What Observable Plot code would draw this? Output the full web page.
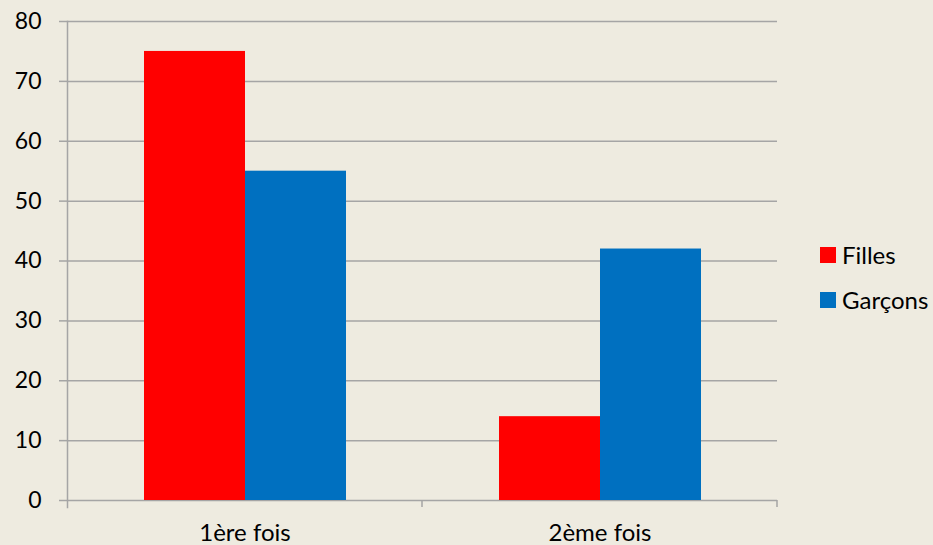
<!DOCTYPE html>
<html>
<head>
<meta charset="utf-8">
<script src="https://cdn.jsdelivr.net/npm/d3@7"></script>
<script src="https://cdn.jsdelivr.net/npm/@observablehq/plot@0.6"></script>
<style>
  html, body { margin: 0; padding: 0; background: #EEEBE0; }
  #wrap { position: relative; width: 933px; height: 545px; font-family: Lato, "Open Sans", sans-serif; }
  .leg { position: absolute; left: 820px; display: flex; align-items: center; font-size: 24px; color: #000; line-height: 1; }
  .sw { width: 16px; height: 16px; margin-right: 6px; display: inline-block; }
</style>
</head>
<body>
<div id="wrap"></div>
<script>
const categories = ["1ère fois", "2ème fois"];
const series = ["Filles", "Garçons"];
const filles = [75, 14];
const garcons = [55, 42];
const yTicks = [0, 10, 20, 30, 40, 50, 60, 70, 80];
const colors = ["#FF0000", "#0070C0"];

const data = categories.flatMap((c, i) => [
  {cat: c, serie: series[0], value: filles[i]},
  {cat: c, serie: series[1], value: garcons[i]}
]);

const gridColor = "#A5A5A5";

const plot = Plot.plot({
  width: 933,
  height: 545,
  marginLeft: 66,
  marginRight: 156,
  marginTop: 21,
  marginBottom: 45,
  style: {background: "#EEEBE0", fontFamily: "Lato, 'Open Sans', sans-serif", fontSize: "22px", color: "#000", overflow: "visible"},
  fx: {domain: categories, padding: 0, label: null},
  x: {domain: series, paddingInner: 0, paddingOuter: 0.75, axis: null},
  y: {domain: [0, 80], label: null},
  color: {domain: series, range: colors},
  marks: [
    Plot.gridY(yTicks, {stroke: gridColor, strokeOpacity: 1, strokeWidth: 1.5}),
    Plot.axisY(yTicks, {tickSize: 8, tickPadding: 18, stroke: gridColor, strokeWidth: 1.5, fill: "#000", fontSize: 23, label: null}),
    Plot.axisFx({anchor: "bottom", tickSize: 0, tickPadding: 23, fontSize: 24, fill: "#000", label: null}),
    Plot.barY(data, {fx: "cat", x: "serie", y: "value", fill: "serie"}),
    Plot.frame({anchor: "left", facetAnchor: "left", stroke: gridColor, strokeWidth: 1.5, insetBottom: -7})
  ]
});

// category boundary ticks below the baseline, positioned from the plot's scales
const fx = plot.scale("fx");
const ys = plot.scale("y");
const y0 = ys.apply(0);
const svg = d3.select(plot);
categories.forEach(c => {
  const xr = fx.apply(c) + fx.bandwidth;
  svg.append("line")
    .attr("x1", xr).attr("x2", xr)
    .attr("y1", y0).attr("y2", y0 + 7)
    .attr("stroke", gridColor).attr("stroke-width", 1.5);
});

const wrap = document.getElementById("wrap");
wrap.appendChild(plot);

// legend
const legendTops = [243, 288];
series.forEach((s, i) => {
  const d = document.createElement("div");
  d.className = "leg";
  d.style.top = legendTops[i] + "px";
  const sw = document.createElement("span");
  sw.className = "sw";
  sw.style.background = colors[i];
  d.appendChild(sw);
  const t = document.createElement("span");
  t.textContent = s;
  d.appendChild(t);
  wrap.appendChild(d);
});
</script>
</body>
</html>
